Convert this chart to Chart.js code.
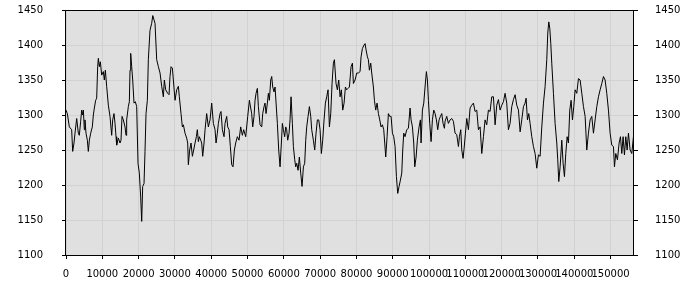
<!DOCTYPE html>
<html><head><meta charset="utf-8">
<script src="https://cdn.jsdelivr.net/npm/chart.js@4/dist/chart.umd.min.js"></script>
<style>html,body{margin:0;padding:0;background:#fff}#wrap{width:700px;height:300px}</style>
</head><body><div id="wrap"><canvas id="c" width="700" height="300"></canvas></div>
<script>
const xValues = [
0,370,920,1560,1840,2200,2480,2940,3400,3670,4040,4320,4590,4780,5050,5230,5510,5880,6150,6430,6800,7250,7530,7810,8170,8450,8720,8910,9180,9460,9830,10290,10560,10840,11200,11660,12120,12580,12860,13220,13500,13780,13960,14420,14880,15150,15430,15800,16250,16530,16710,17170,17450,17630,17820,18090,18370,18730,19100,19470,19840,20200,20570,20850,21120,21490,21760,22040,22410,22680,23140,23600,23900,
24520,24980,25440,25900,26360,26820,27090,27460,28010,28380,28650,28930,29300,29570,30030,30490,30950,31220,31680,32050,32330,32790,33240,33520,33700,34070,34440,34810,35170,35540,35910,36180,36460,36730,37100,37380,37650,38020,38300,38750,39210,39670,40130,40590,41050,41330,41690,41970,42430,42700,43070,43530,43800,44260,44540,44910,45270,45640,46010,46380,46740,47200,47660,48120,48580,48950,49500,50050,50510,
51150,51430,51790,52070,52350,52710,52990,53450,53910,54180,54550,54820,55100,55470,55740,56020,56390,56660,56940,57300,57580,57860,58220,58590,58960,59320,59600,59880,60240,60520,60790,61070,61440,61710,61990,62350,62630,63000,63270,63550,63920,64280,64650,65020,65390,65750,66030,66300,66670,67040,67410,67680,68140,68510,68870,69240,69610,69980,70340,70710,71080,71450,71810,72180,72550,72920,73280,73650,73930,74380,74750,75120,75490,75850,76220,76590,76960,77320,77690,78060,
78520,78890,79160,79620,80080,80540,81000,81270,81640,82100,82380,82650,83020,83290,83570,83940,84210,84670,84950,85310,85680,86050,86420,86780,87150,87520,87790,88070,88440,88800,89170,89540,89910,90270,90640,91010,91370,91740,92110,92480,92750,93030,93390,93850,94310,94770,95050,95420,95780,96060,96430,96790,97250,97620,97800,98170,98540,98900,99270,99550,99820,100190,100560,100920,101290,101660,102030,102390,102760,103130,103500,103860,104230,
104410,104870,105330,105790,106250,106710,107170,107630,108090,108360,108730,109010,109370,109650,110020,110380,110840,111300,111760,112220,112680,113140,113600,114060,114520,114980,115430,115890,116350,116810,117270,117730,118190,118650,119110,119570,120030,120490,120940,121400,121860,122320,122780,123240,123700,124160,124620,125080,125540,126000,126450,126730,127100,127460,127830,128290,128750,129210,129670,130130,130590,
131050,131510,131970,132420,132700,132980,133250,133530,133800,134260,134720,135180,135450,135730,136100,136560,136920,137290,137660,138030,138390,138760,139130,139500,139860,140230,140690,141150,141610,142070,142530,142990,143440,143900,144360,144820,145280,145740,146200,146660,147120,147580,148040,148490,148950,149410,149870,150330,150790,151070,151430,151890,152350,152720,153090,153450,153820,154190,154560,154920,155380,155840,156300,156450
];
const yValues = [
1307,1302,1283,1279,1248,1260,1274,1295,1274,1271,1291,1307,1300,1307,1279,1293,1274,1264,1248,1264,1274,1283,1300,1310,1321,1324,1369,1381,1369,1376,1357,1362,1350,1364,1341,1314,1298,1271,1293,1302,1288,1269,1257,1267,1260,1264,1298,1293,1283,1271,1293,1312,1319,1364,1388,1369,1350,1317,1319,1312,1231,1217,1183,1148,1198,1202,1248,1302,1321,1379,1421,1431,1442,
1431,1379,1369,1360,1341,1326,1350,1336,1331,1329,1355,1369,1367,1350,1321,1336,1341,1326,1302,1283,1286,1274,1267,1260,1229,1250,1260,1241,1250,1260,1269,1279,1262,1269,1264,1260,1241,1260,1279,1302,1283,1293,1317,1288,1279,1260,1274,1288,1302,1305,1279,1269,1288,1298,1283,1279,1255,1229,1226,1250,1260,1269,1264,1283,1271,1279,1269,1298,1321,
1302,1283,1298,1321,1331,1338,1312,1286,1283,1302,1312,1317,1302,1317,1331,1321,1350,1355,1340,1333,1340,1317,1288,1250,1226,1260,1288,1279,1269,1283,1279,1264,1274,1293,1326,1288,1255,1236,1226,1231,1221,1240,1217,1198,1226,1231,1264,1283,1298,1312,1298,1279,1264,1250,1274,1293,1293,1279,1245,1264,1293,1317,1326,1336,1283,1302,1345,1374,1379,1345,1336,1350,1326,1336,1307,1317,1340,1336,1338,1340,
1369,1374,1345,1350,1360,1360,1362,1383,1395,1400,1402,1393,1383,1379,1364,1374,1360,1340,1321,1307,1317,1302,1293,1283,1286,1279,1260,1240,1269,1302,1298,1298,1274,1269,1255,1212,1188,1198,1207,1217,1250,1274,1269,1279,1281,1310,1293,1283,1260,1226,1240,1264,1283,1293,1260,1307,1317,1340,1362,1350,1321,1288,1262,1293,1307,1302,1293,1279,1293,1298,1302,1288,1281,
1291,1298,1288,1293,1295,1291,1274,1272,1255,1269,1279,1250,1238,1252,1274,1295,1279,1310,1314,1317,1305,1307,1279,1283,1245,1269,1293,1286,1307,1305,1326,1326,1286,1314,1322,1307,1314,1319,1331,1317,1279,1288,1312,1322,1329,1314,1307,1276,1293,1312,1317,1324,1293,1302,1288,1269,1255,1245,1224,1243,1241,
1283,1317,1341,1379,1417,1433,1424,1402,1374,1331,1288,1260,1236,1205,1226,1264,1231,1212,1245,1269,1260,1307,1321,1293,1312,1336,1331,1352,1350,1331,1312,1298,1250,1274,1293,1298,1274,1293,1312,1326,1336,1345,1355,1350,1331,1307,1274,1257,1255,1226,1245,1236,1260,1269,1245,1269,1243,1269,1250,1274,1250,1245,1269,1262
];
const xTicks = [0,10000,20000,30000,40000,50000,60000,70000,80000,90000,100000,110000,120000,130000,140000,150000];
const yTicks = [1100,1150,1200,1250,1300,1350,1400,1450];

const points = xValues.map((x, i) => ({x: x, y: yValues[i]}));
const font = {family: 'DejaVu Sans', size: 10};
const plain = v => String(v);

const plotFrame = {
  id: 'plotFrame',
  beforeDraw(chart) {
    const {ctx, chartArea: a} = chart;
    ctx.save();
    ctx.fillStyle = '#e0e0e0';
    ctx.fillRect(a.left, a.top, a.right - a.left, a.bottom - a.top);
    ctx.restore();
  },
  afterDraw(chart) {
    const {ctx, chartArea: a} = chart;
    ctx.save();
    ctx.strokeStyle = '#000';
    ctx.lineWidth = 1;
    ctx.strokeRect(Math.round(a.left) - 0.5, Math.round(a.top) + 0.5, Math.round(a.right - a.left), Math.round(a.bottom - a.top));
    ctx.restore();
  }
};

function fitV(s) { s.width = 66; s.paddingTop = 0; s.paddingBottom = 0; }

new Chart(document.getElementById('c'), {
  type: 'line',
  data: {datasets: [{data: points, borderColor: '#000', borderWidth: 1, pointRadius: 0, fill: false, tension: 0}]},
  options: {
    responsive: false,
    animation: false,
    devicePixelRatio: 1,
    layout: {padding: {top: 10, left: 0, right: 0, bottom: 0}},
    plugins: {legend: {display: false}, tooltip: {enabled: false}},
    scales: {
      x: {
        type: 'linear', position: 'bottom', min: 0, max: 156450,
        afterFit(s) { s.height = 45; },
        afterBuildTicks(s) { s.ticks = xTicks.map(v => ({value: v})); },
        grid: {color: '#d2d2d2', tickColor: '#000', tickLength: 4},
        border: {display: false},
        ticks: {font: font, color: '#000', padding: 9, autoSkip: false, maxRotation: 0, minRotation: 0, callback: plain}
      },
      y: {
        type: 'linear', position: 'left', min: 1100, max: 1450,
        afterFit: fitV,
        afterBuildTicks(s) { s.ticks = yTicks.map(v => ({value: v})); },
        grid: {color: '#d2d2d2', tickColor: '#000', tickLength: 4},
        border: {display: false},
        ticks: {font: font, color: '#000', padding: 19, callback: plain}
      },
      y2: {
        type: 'linear', position: 'right', min: 1100, max: 1450,
        afterFit: fitV,
        afterBuildTicks(s) { s.ticks = yTicks.map(v => ({value: v})); },
        grid: {drawOnChartArea: false, tickColor: '#000', tickLength: 4},
        border: {display: false},
        ticks: {font: font, color: '#000', padding: 17, callback: plain}
      }
    }
  },
  plugins: [plotFrame]
});
</script>
</body></html>
